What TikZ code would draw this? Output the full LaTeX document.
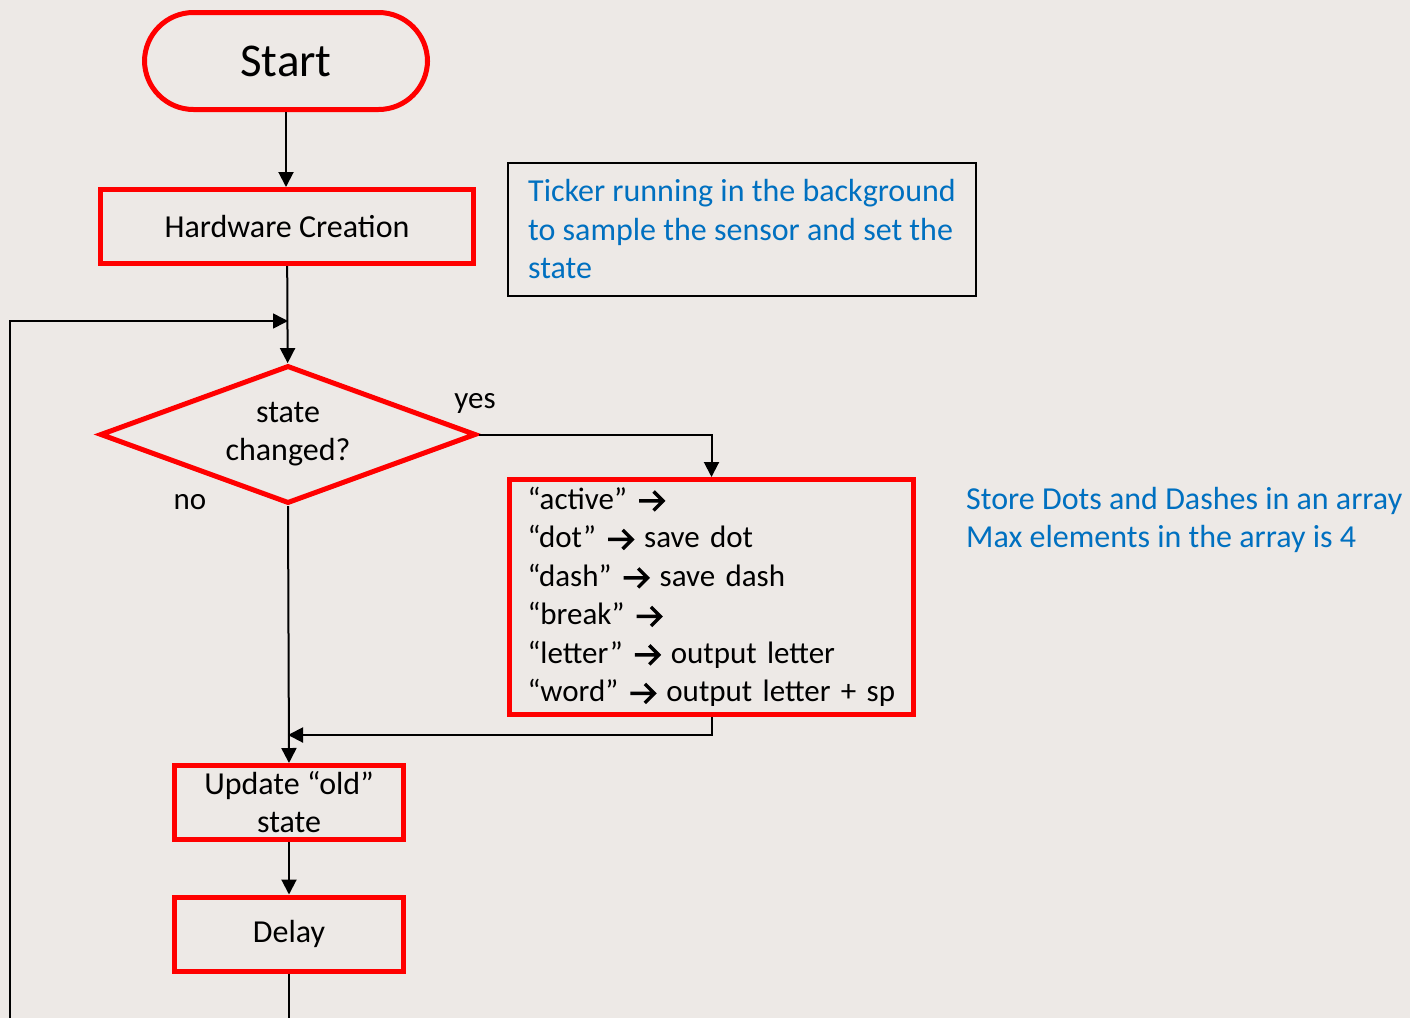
\documentclass[tikz,border=0pt]{standalone}
\usepackage{fontspec}
\setmainfont{Carlito}
\usetikzlibrary{arrows.meta,shapes.geometric}
\definecolor{FlowRed}{RGB}{255,0,0}
\definecolor{NoteBlue}{RGB}{0,112,192}
\definecolor{SlideBack}{RGB}{237,233,230}
\newcommand{\goesto}{\tikz[baseline=-8.5pt,x=1pt,y=1pt]
  \draw[line width=3.4pt]
    (0,0) -- (24,0) (14.5,9.5) -- (24,0) -- (14.5,-9.5);}

\begin{document}
\begin{tikzpicture}[x=1pt,y=-1pt,
  flowbox/.style={draw=FlowRed,line width=5pt,minimum height=74pt,align=center,
    font=\fontsize{32}{38}\selectfont},
  flow/.style={line width=2pt,-{Triangle[length=15pt,width=15pt]}},
  note/.style={text=NoteBlue,align=left,font=\fontsize{32}{38.5}\selectfont},
  label/.style={font=\fontsize{31}{32}\selectfont}]
\useasboundingbox (0,0) rectangle (1410,1018);
\fill[SlideBack] (0,0) rectangle (1410,1018);

\node[flowbox,rounded corners=49pt,minimum width=283pt,minimum height=97pt,
  font=\fontsize{47}{50}\selectfont] (start) at (286,61) {Start};
\node[flowbox,minimum width=373pt] (hw) at (287,226.5) {Hardware Creation};
\node[draw,line width=2pt,minimum width=468pt,minimum height=133pt,note] (ticker) at (742,229.5)
  {Ticker running in the background\\to sample the sensor and set the\\state};
\node[diamond,aspect=2.66,draw=FlowRed,line width=5pt,inner sep=0pt,minimum width=376pt,
  minimum height=138pt,align=center,font=\fontsize{32}{38}\selectfont] (dec) at (288,434.5)
  {state\\changed?};
\node[label] (yes) at (475,403) {yes};
\node[label] (no) at (190,502) {no};
\node[flowbox,minimum width=404pt,minimum height=235pt,text width=368pt,inner xsep=18pt,
  align=left,font=\fontsize{31}{38.5}\selectfont] (acts) at (711.5,597)
  {“active” \goesto\\
   “dot” \goesto{} save dot\\
   “dash” \goesto{} save dash\\
   “break” \goesto\\
   “letter” \goesto{} output letter\\
   “word” \goesto{} output letter + sp};
\node[note,anchor=west,inner sep=0pt] (store) at (966,520)
  {Store Dots and Dashes in an array\\Max elements in the array is 4};
\node[flowbox,minimum width=229pt] (upd) at (289,802.5) {Update “old”\\state};
\node[flowbox,minimum width=229pt] (delay) at (289,934) {Delay};

\coordinate (loopin) at (288,321);
\coordinate (loopout) at (10,1018);
\coordinate (merge) at (288,735);
\coordinate (pageend) at (289,1018);

\draw[flow] (start) -- (start.south |- hw.north);
\draw[flow] (hw) -- (dec);
\draw[flow,line width=1.6pt] (loopout) |- (loopin);
\draw[flow] (dec.east) -| (acts.north);
\draw[flow] (acts.south) |- (merge);
\draw[flow] (dec.south) -- (upd.north);
\draw[flow] (upd) -- (delay);
\draw[line width=1.6pt] (delay.south) -- (pageend);
\end{tikzpicture}
\end{document}
